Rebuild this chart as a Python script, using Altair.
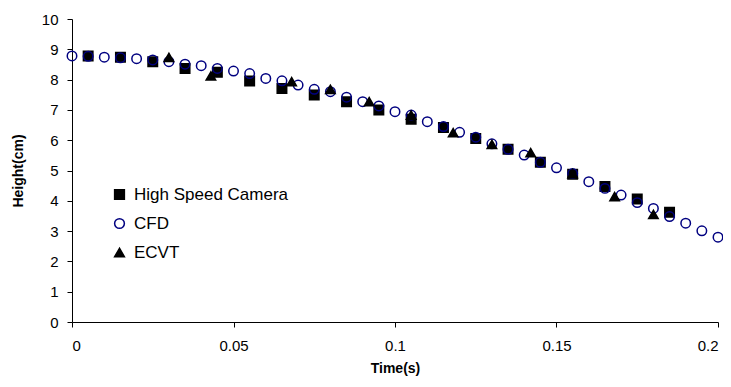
import altair as alt
import pandas as pd

# High Speed Camera
cam_t = [0.005, 0.015, 0.025, 0.035, 0.045, 0.055, 0.065, 0.075, 0.085, 0.095,
         0.105, 0.115, 0.125, 0.135, 0.145, 0.155, 0.165, 0.175, 0.185]
cam_h = [8.78, 8.74, 8.59, 8.37, 8.24, 7.95, 7.71, 7.49, 7.27, 7.00,
         6.69, 6.42, 6.06, 5.70, 5.27, 4.88, 4.47, 4.06, 3.62]

# CFD
cfd_t = [0.000, 0.005, 0.010, 0.015, 0.020, 0.025, 0.030, 0.035, 0.040, 0.045,
         0.050, 0.055, 0.060, 0.065, 0.070, 0.075, 0.080, 0.085, 0.090, 0.095,
         0.100, 0.105, 0.110, 0.115, 0.120, 0.125, 0.130, 0.135, 0.140, 0.145,
         0.150, 0.155, 0.160, 0.165, 0.170, 0.175, 0.180, 0.185, 0.190, 0.195, 0.200]
cfd_h = [8.78, 8.77, 8.74, 8.72, 8.69, 8.65, 8.59, 8.51, 8.46, 8.37,
         8.28, 8.20, 8.04, 7.96, 7.82, 7.68, 7.60, 7.42, 7.27, 7.13,
         6.94, 6.83, 6.61, 6.45, 6.26, 6.10, 5.88, 5.70, 5.51, 5.27,
         5.09, 4.90, 4.63, 4.41, 4.19, 3.94, 3.75, 3.48, 3.26, 3.01, 2.80]

# ECVT
ecvt_t = [0.030, 0.043, 0.068, 0.080, 0.092, 0.105, 0.118, 0.130, 0.142, 0.155, 0.168, 0.180]
ecvt_h = [8.73, 8.12, 7.93, 7.68, 7.27, 6.83, 6.25, 5.86, 5.59, 4.90, 4.14, 3.55]

series = ["High Speed Camera", "CFD", "ECVT"]
x_ticks = [0, 0.05, 0.1, 0.15, 0.2]
y_ticks = list(range(0, 11))

rows = []
for name, ts, hs in [(series[0], cam_t, cam_h), (series[1], cfd_t, cfd_h), (series[2], ecvt_t, ecvt_h)]:
    for t, h in zip(ts, hs):
        rows.append({"Series": name, "Time": t, "Height": h})
df = pd.DataFrame(rows)

leg = alt.Legend(
    title=None, orient="none", legendX=39, legendY=167,
    labelFontSize=17, labelFont="Liberation Sans", labelColor="black",
    rowPadding=11, labelOffset=6, symbolSize=95, symbolStrokeWidth=1.5, padding=0,
)

chart = alt.Chart(df).mark_point(filled=False, strokeWidth=1.5, opacity=1).encode(
    x=alt.X("Time:Q", scale=alt.Scale(domain=[0, 0.2], nice=False),
            axis=alt.Axis(values=x_ticks, format="~g", title="Time(s)", grid=False,
                          labelPadding=11, titlePadding=8)),
    y=alt.Y("Height:Q", scale=alt.Scale(domain=[0, 10], nice=False),
            axis=alt.Axis(values=y_ticks, title="Height(cm)", grid=False,
                          labelPadding=9, titlePadding=16)),
    shape=alt.Shape("Series:N", scale=alt.Scale(domain=series, range=["square", "circle", "triangle-up"]), legend=leg),
    fill=alt.Fill("Series:N", scale=alt.Scale(domain=series, range=["black", "transparent", "black"]), legend=leg),
    stroke=alt.Stroke("Series:N", scale=alt.Scale(domain=series, range=["black", "#000080", "black"]), legend=leg),
    size=alt.value(90),
    order=alt.Order("order:Q"),
).transform_calculate(
    order="datum.Series === 'High Speed Camera' ? 0 : (datum.Series === 'CFD' ? 1 : 2)"
).properties(
    width=646, height=303,
    autosize=alt.AutoSizeParams(type="none"),
    padding={"left": 64, "top": 11, "right": 5, "bottom": 57},
).configure_view(stroke=None).configure_axis(
    domainColor="black", tickColor="black", labelColor="black", titleColor="black",
    labelFont="Liberation Sans", titleFont="Liberation Sans",
    labelFontSize=15, titleFontSize=14, titleFontWeight="bold", tickSize=5,
    domainWidth=1, tickWidth=1,
)

chart.save("out.html", embed_options={"renderer": "svg", "actions": False})
